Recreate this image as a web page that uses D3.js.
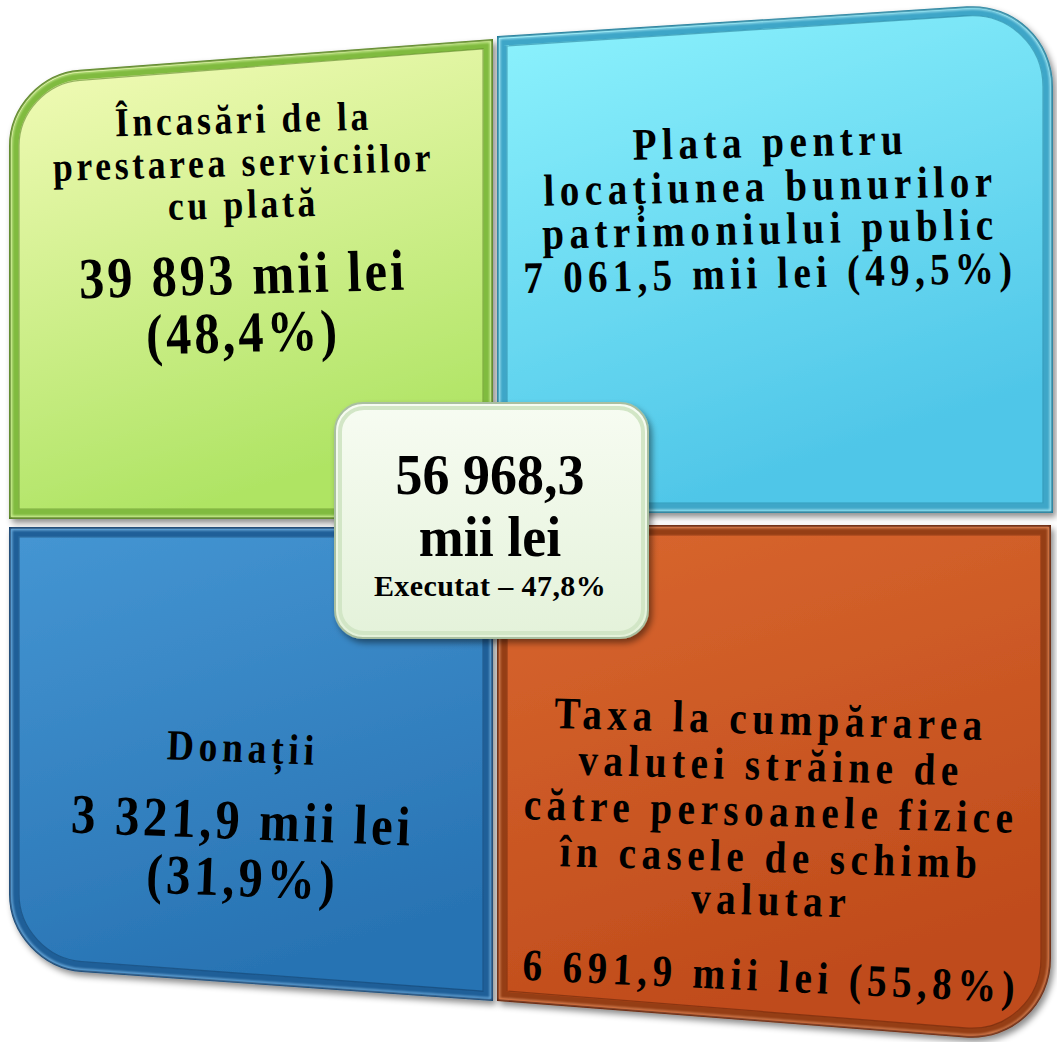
<!DOCTYPE html>
<html>
<head>
<meta charset="utf-8">
<script src="https://cdn.jsdelivr.net/npm/d3@7"></script>
<style>
html,body{margin:0;padding:0;background:#fff;}
svg{display:block;}
text{font-family:"Liberation Serif","Times New Roman",serif;font-weight:bold;fill:#000;}
</style>
</head>
<body>
<div id="chart"></div>
<script>
// ---------- data ----------
const categories = [
  "Încasări de la prestarea serviciilor cu plată",
  "Plata pentru locațiunea bunurilor patrimoniului public",
  "Donații",
  "Taxa la cumpărarea valutei străine de către persoanele fizice în casele de schimb valutar"
];
const titleLines = [
  ["Încasări de la", "prestarea serviciilor", "cu plată"],
  ["Plata pentru", "locațiunea bunurilor", "patrimoniului public"],
  ["Donații"],
  ["Taxa la cumpărarea", "valutei străine de", "către persoanele fizice", "în casele de schimb", "valutar"]
];
const amounts = ["39 893", "7 061,5", "3 321,9", "6 691,9"];
const shares = ["48,4%", "49,5%", "31,9%", "55,8%"];
const unit = "mii lei";
const totalAmount = "56 968,3";
const executedLabel = "Executat";
const executedShare = "47,8%";

// ---------- layout ----------
const W = 1057, H = 1042;
const svg = d3.select("#chart").append("svg").attr("width", W).attr("height", H);
const defs = svg.append("defs");

const color = d3.scaleOrdinal().domain(categories)
  .range([
    {top:"#f5fcbb", bot:"#afe464", edge:"#80bb3f", dark:"#4f7a1c", light:"#eaffb8"},
    {top:"#8ff4fe", bot:"#4fc6e8", edge:"#3ea6c8", dark:"#1f7896", light:"#c8fbff"},
    {top:"#4596d3", bot:"#2873b3", edge:"#1f5f98", dark:"#123e68", light:"#8cc8f4"},
    {top:"#d9672f", bot:"#bf4b1b", edge:"#953e15", dark:"#5e220a", light:"#f0a070"}
  ]);

// quadrant geometry (perspective quad corners TL,TR,BR,BL + rounded corner index)
const geom = [
  {pts:[[10,76],[492,40],[492,518],[10,518]], round:0, r:70},
  {pts:[[498,37],[1052,2],[1052,512],[498,512]], round:1, r:85},
  {pts:[[10,528],[492,528],[492,1000],[10,966]], round:3, r:72},
  {pts:[[498,526],[1050,526],[1050,1043],[498,1000]], round:2, r:85}
];

function quadPath(pts, round, r) {
  const p = d3.path();
  const n = pts.length;
  const pieces = [];
  for (let i = 0; i < n; i++) {
    const P = pts[i];
    if (i === round) {
      const A = pts[(i + n - 1) % n], B = pts[(i + 1) % n];
      const da = Math.hypot(A[0]-P[0], A[1]-P[1]), db = Math.hypot(B[0]-P[0], B[1]-P[1]);
      const s = [P[0] + r*(A[0]-P[0])/da, P[1] + r*(A[1]-P[1])/da];
      const e = [P[0] + r*(B[0]-P[0])/db, P[1] + r*(B[1]-P[1])/db];
      pieces.push({type:"c", s, e, P});
    } else pieces.push({type:"l", P});
  }
  pieces.forEach((pc, i) => {
    const first = pc.type === "c" ? pc.s : pc.P;
    if (i === 0) p.moveTo(first[0], first[1]); else p.lineTo(first[0], first[1]);
    if (pc.type === "c") {
      const k = 0.55;
      p.bezierCurveTo(pc.s[0] + k*(pc.P[0]-pc.s[0]), pc.s[1] + k*(pc.P[1]-pc.s[1]),
                      pc.e[0] + k*(pc.P[0]-pc.e[0]), pc.e[1] + k*(pc.P[1]-pc.e[1]),
                      pc.e[0], pc.e[1]);
    }
  });
  p.closePath();
  return p.toString();
}
function inset(pts, d) {
  const cx = d3.mean(pts, q => q[0]), cy = d3.mean(pts, q => q[1]);
  return pts.map(q => [q[0] + (q[0] < cx ? d : -d), q[1] + (q[1] < cy ? d : -d)]);
}

// filters
const sh = defs.append("filter").attr("id","shadow").attr("x","-10%").attr("y","-10%").attr("width","130%").attr("height","130%");
sh.append("feDropShadow").attr("dx",3).attr("dy",4).attr("stdDeviation",3).attr("flood-color","#000").attr("flood-opacity",0.45);
const blur = defs.append("filter").attr("id","soft");
blur.append("feGaussianBlur").attr("stdDeviation",1.2);

categories.forEach((c, i) => {
  const col = color(c);
  const g = geom[i];
  const ys = g.pts.map(q => q[1]);
  const lg = defs.append("linearGradient").attr("id","grad"+i)
    .attr("gradientUnits","userSpaceOnUse")
    .attr("x1", d3.min(g.pts, q=>q[0])).attr("y1", d3.min(ys))
    .attr("x2", d3.max(g.pts, q=>q[0]) * 0.3 + d3.min(g.pts,q=>q[0]) * 0.7).attr("y2", d3.max(ys));
  lg.append("stop").attr("offset","0%").attr("stop-color", col.top);
  lg.append("stop").attr("offset","100%").attr("stop-color", col.bot);
});

const quads = svg.append("g");
categories.forEach((c, i) => {
  const col = color(c), g = geom[i];
  const d = quadPath(g.pts, g.round, g.r);
  quads.append("path").attr("d", d).attr("fill", "url(#grad"+i+")")
    .attr("stroke", col.dark).attr("stroke-width", 2).attr("filter","url(#shadow)");
  const ip = inset(g.pts, 5);
  quads.append("path").attr("d", quadPath(ip, g.round, g.r - 5)).attr("fill","none")
    .attr("stroke", col.edge).attr("stroke-width", 7);
  const ip2 = inset(g.pts, 1.5);
  quads.append("path").attr("d", quadPath(ip2, g.round, g.r - 1.5)).attr("fill","none")
    .attr("stroke", col.light).attr("stroke-width", 1.5).attr("stroke-opacity",0.9).attr("filter","url(#soft)");
  const ip3 = inset(g.pts, 9);
  quads.append("path").attr("d", quadPath(ip3, g.round, g.r - 9)).attr("fill","none")
    .attr("stroke", col.dark).attr("stroke-width", 1.2).attr("stroke-opacity",0.55);
});

// ---------- text ----------
const SX = 0.87;
const textSpec = [
  {cx:242, size:41, ls:4.2, rot:-1.5, base:[133,176,218],
   vals:[{t:amounts[0]+" "+unit, y:294, size:58, ls:3.6}, {t:"("+shares[0]+")", y:352, size:58, ls:3.6}]},
  {cx:768, size:45, ls:6.3, rot:-1.2, base:[157,201,244],
   vals:[{t:amounts[1]+" "+unit+" ("+shares[1]+")", y:288, size:45, ls:6.0}]},
  {cx:240, size:43, ls:5.5, rot:2.2, base:[762],
   vals:[{t:amounts[2]+" "+unit, y:839, size:56, ls:4.3}, {t:"("+shares[2]+")", y:896, size:56, ls:4.3}]},
  {cx:768, size:45, ls:6.3, rot:1.6, base:[734,780,826,872,915],
   vals:[{t:amounts[3]+" "+unit+" ("+shares[3]+")", y:991, size:45, ls:6.2, rot:2.6}]}
];
const tg = svg.append("g");
function addText(str, cx, y, size, ls, rot) {
  tg.append("text").attr("x", cx + ls/2).attr("y", y).attr("text-anchor","middle")
    .attr("font-size", size).attr("letter-spacing", ls)
    .attr("transform", `rotate(${rot},${cx},${y}) translate(${cx},${y}) scale(${SX},1) translate(${-cx},${-y})`)
    .text(str);
}
textSpec.forEach((s, i) => {
  titleLines[i].forEach((line, j) => addText(line, s.cx, s.base[j], s.size, s.ls, s.rot));
  s.vals.forEach(v => addText(v.t, s.cx, v.y, v.size, v.ls, v.rot !== undefined ? v.rot : s.rot));
});

// ---------- center box ----------
const cg = defs.append("linearGradient").attr("id","cgrad").attr("x1",0).attr("y1",0).attr("x2",0).attr("y2",1);
cg.append("stop").attr("offset","0%").attr("stop-color","#f7fcf2");
cg.append("stop").attr("offset","100%").attr("stop-color","#e4f2da");
const center = svg.append("g");
center.append("rect").attr("x",335).attr("y",403).attr("width",313).attr("height",235).attr("rx",28)
  .attr("fill","url(#cgrad)").attr("stroke","#a9bfa0").attr("stroke-width",2).attr("filter","url(#shadow)");
center.append("rect").attr("x",340).attr("y",408).attr("width",303).attr("height",225).attr("rx",24)
  .attr("fill","none").attr("stroke","#d2e6c6").attr("stroke-width",4);
center.append("text").attr("x",490).attr("y",494).attr("text-anchor","middle").attr("font-size",58)
  .attr("transform","translate(490,494) scale(0.93,1) translate(-490,-494)").text(totalAmount);
center.append("text").attr("x",490).attr("y",556).attr("text-anchor","middle").attr("font-size",58)
  .attr("transform","translate(490,556) scale(0.93,1) translate(-490,-556)").text(unit);
center.append("text").attr("x",490).attr("y",596).attr("text-anchor","middle").attr("font-size",30).attr("letter-spacing",0.4)
  .text(executedLabel + " – " + executedShare);
</script>
</body>
</html>
